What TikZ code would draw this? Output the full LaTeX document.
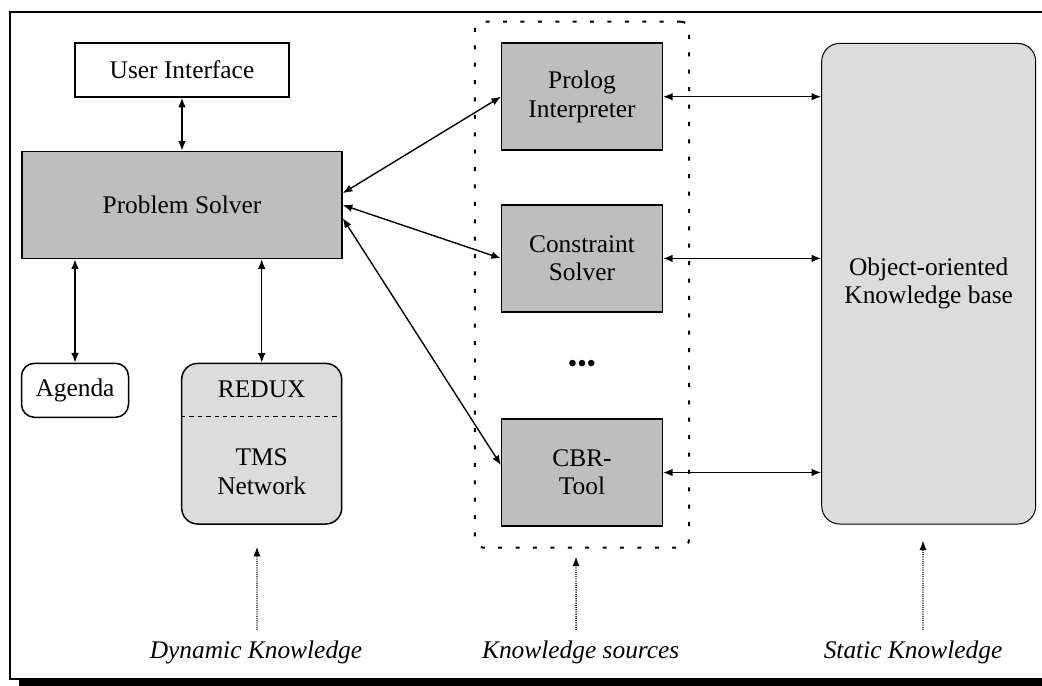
\documentclass[tikz,border=0pt]{standalone}
\usepackage{fontspec}
\setmainfont{Liberation Serif}
\usepackage{tikz}
\usetikzlibrary{arrows.meta,positioning,fit}
\definecolor{darkfill}{HTML}{BEBEBE}
\definecolor{lightfill}{HTML}{DCDCDC}

\begin{document}
\begin{tikzpicture}[x=0.5pt, y=-0.5pt,
  box/.style={draw, line width=0.75pt, align=center, inner sep=0pt, font=\fontsize{12.7}{14.2}\selectfont},
  solver/.style={box, fill=darkfill},
  soft/.style={box, rounded corners=8pt, fill=lightfill},
  arr/.style={{Latex[length=4.8pt,width=3.8pt]}-{Latex[length=4.8pt,width=3.8pt]}, line width=0.7pt},
  hint/.style={-{Latex[length=4.8pt,width=3.6pt]}, dash pattern=on 0.5pt off 0.6pt, line width=0.7pt},
  caption/.style={font=\fontsize{12.7}{14.2}\selectfont\itshape, anchor=base, inner sep=0pt}]
  \useasboundingbox (0,0) rectangle (1042,685);
  % frame with shadow
  \fill (19,679) rectangle (1060,692);
  \draw[line width=1.2pt, fill=white] (10,12) rectangle (1060,679);

  % dynamic side
  \node[box, minimum width=107pt, minimum height=27pt] (ui) at (182,70) {User Interface};
  \node[solver, minimum width=160pt, minimum height=53.5pt, below=26.5pt of ui] (ps) {Problem Solver};
  \node[box, rounded corners=6.5pt, minimum width=53.5pt, minimum height=27pt] (agenda) at (75,390.3) {Agenda};
  \node[soft, minimum width=80pt, minimum height=80.3pt] (dyn) at (261.7,443.7) {};
  \node[box, draw=none] (redux) at ([yshift=-13.5pt]dyn.north) {REDUX};
  \node[box, draw=none] (tms) at ([yshift=26.6pt]dyn.south) {TMS\\Network};
  \draw[line width=0.75pt, dash pattern=on 2.2pt off 2pt] ([yshift=-27pt]dyn.north west) -- ([yshift=-27pt]dyn.north east);

  % knowledge sources
  \node[solver, minimum width=80.3pt, minimum height=53.5pt] (prolog) at (582,96.7) {Prolog\\Interpreter};
  \node[solver, minimum width=80.3pt, minimum height=53.5pt, below=26.6pt of prolog] (constraint) {Constraint\\Solver};
  \node[solver, minimum width=80.3pt, minimum height=53.5pt, below=52.8pt of constraint] (cbr) {CBR-\\Tool};
  \node[font=\fontsize{13.5}{14.2}\selectfont, inner sep=0pt] (dots) at (582,366) {\textbullet\textbullet\textbullet};
  \node[draw, rounded corners=4pt, dash pattern=on 2pt off 6.7pt, line width=1pt,
        inner xsep=13pt, inner ysep=10.4pt, fit=(prolog)(cbr)] (ks) {};

  % static side
  \node[box, rounded corners=9pt, fill=lightfill, line width=0.5pt, minimum width=107pt, minimum height=240.3pt] (kb) at (928.7,283.7) {Object-oriented\\Knowledge base};

  \draw[arr] (ui) -- (ps);
  \draw[arr] ([yshift=5.9pt]ps.east) -- (prolog.west);
  \draw[arr] (ps.east) -- (constraint.west);
  \draw[arr] ([yshift=-6.6pt]ps.east) -- ([yshift=3.7pt]cbr.west);
  \draw[arr] (agenda) -- (agenda |- ps.south);
  \draw[arr] (dyn) -- (dyn |- ps.south);
  \draw[arr] (prolog) -- (prolog -| kb.west);
  \draw[arr] (constraint) -- (constraint -| kb.west);
  \draw[arr] (cbr) -- (cbr -| kb.west);

  % captions
  \node[caption] (dynlbl) at (256,658) {Dynamic Knowledge};
  \node[caption] (kslbl) at (580.7,658) {Knowledge sources};
  \node[caption] (statlbl) at (913,658) {Static Knowledge};
  \draw[hint] ([xshift=0.5pt, yshift=5pt]dynlbl.north) -- ([xshift=-2.35pt, yshift=-11pt]dyn.south);
  \draw[hint] ([xshift=-2.3pt, yshift=5pt]kslbl.north) -- ([xshift=-3pt, yshift=-4pt]ks.south);
  \draw[hint] ([xshift=5pt, yshift=5pt]statlbl.north) -- ([xshift=-2.85pt, yshift=-8pt]kb.south);
\end{tikzpicture}
\end{document}
